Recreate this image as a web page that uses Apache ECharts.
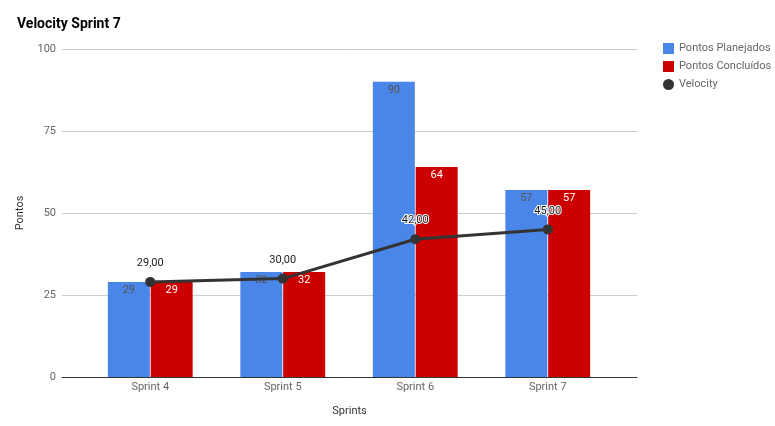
<!DOCTYPE html>
<html><head><meta charset="utf-8">
<script src="https://cdn.jsdelivr.net/npm/echarts@6/dist/echarts.min.js"></script>
<style>html,body{margin:0;padding:0;background:#fff}#c{width:775px;height:426px}</style>
</head><body><div id="c"></div>
<script>
const categories = ['Sprint 4', 'Sprint 5', 'Sprint 6', 'Sprint 7'];
const planejados = [29, 32, 90, 57];
const concluidos = [29, 32, 64, 57];
const velocity = [29, 30, 42, 45];
const yTicks = [0, 25, 50, 75, 100];

const chart = echarts.init(document.getElementById('c'), null, {renderer: 'canvas'});
const FONT = 'Roboto';
chart.setOption({
  animation: false,
  textStyle: {fontFamily: FONT},
  title: {text: 'Velocity Sprint 7', left: 12, top: 12, textStyle: {fontFamily: FONT, fontSize: 14, fontWeight: 'bold', color: '#000'}},
  legend: {
    orient: 'vertical', left: 658, top: 38, itemGap: 7, itemWidth: 11, itemHeight: 11,
    textStyle: {fontFamily: FONT, fontSize: 11, color: '#666'},
    data: [
      {name: 'Pontos Planejados', icon: 'rect'},
      {name: 'Pontos Concluídos', icon: 'rect'},
      {name: 'Velocity', icon: 'circle'}
    ]
  },
  grid: [
    {left: 62, right: 138, top: 49, bottom: 49},
    {left: 84, right: 161, top: 49, bottom: 49}
  ],
  xAxis: [
    {type: 'category', gridIndex: 0, data: [''], axisTick: {show: false}, axisLabel: {show: false},
     axisLine: {lineStyle: {color: '#333', width: 1}},
     name: 'Sprints', nameLocation: 'middle', nameGap: 29,
     nameTextStyle: {fontFamily: FONT, fontSize: 11, color: '#333'}},
    {type: 'category', gridIndex: 1, data: categories, axisTick: {show: false}, axisLine: {show: false},
     axisLabel: {fontFamily: FONT, fontSize: 11, color: '#666', margin: 5}}
  ],
  yAxis: [
    {type: 'value', gridIndex: 0, min: 0, max: 100, interval: 25,
     axisLabel: {fontFamily: FONT, fontSize: 11, color: '#666', margin: 6,
       formatter: v => yTicks.includes(v) ? String(v) : ''},
     splitLine: {lineStyle: {color: '#ccc'}}, axisLine: {show: false}, axisTick: {show: false},
     name: 'Pontos', nameLocation: 'middle', nameGap: 36, nameRotate: 90,
     nameTextStyle: {fontFamily: FONT, fontSize: 11, color: '#333'}},
    {type: 'value', gridIndex: 1, min: 0, max: 100, interval: 25, show: false}
  ],
  series: [
    {name: 'Pontos Planejados', type: 'bar', xAxisIndex: 1, yAxisIndex: 1, data: planejados,
     barCategoryGap: '36%', barGap: '2%', itemStyle: {color: '#4a86e8'},
     label: {show: true, position: 'insideTop', distance: 3, fontFamily: FONT, fontSize: 11, color: '#555'}},
    {name: 'Pontos Concluídos', type: 'bar', xAxisIndex: 1, yAxisIndex: 1, data: concluidos,
     barCategoryGap: '36%', barGap: '2%', itemStyle: {color: '#cc0000'},
     label: {show: true, position: 'insideTop', distance: 3, fontFamily: FONT, fontSize: 11, color: '#fff'}},
    {name: 'Velocity', type: 'line', xAxisIndex: 1, yAxisIndex: 1, data: velocity,
     symbol: 'circle', symbolSize: 10, z: 5,
     lineStyle: {color: '#333', width: 3}, itemStyle: {color: '#333'},
     label: {show: true, position: 'top', distance: 8, fontFamily: FONT, fontSize: 11, color: '#222',
       textBorderColor: '#fff', textBorderWidth: 2,
       formatter: p => p.value.toFixed(2).replace('.', ',')}}
  ]
});
</script></body></html>
